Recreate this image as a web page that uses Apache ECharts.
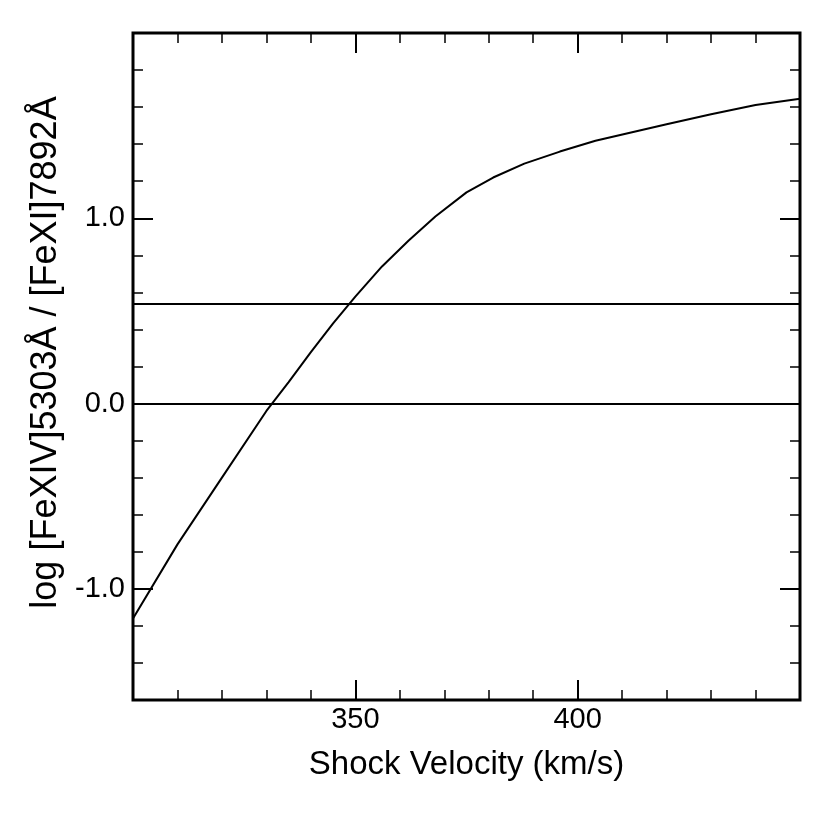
<!DOCTYPE html>
<html>
<head>
<meta charset="utf-8">
<title>Shock Velocity</title>
<script src="https://cdn.jsdelivr.net/npm/echarts@6/dist/echarts.min.js"></script>
<style>
  html, body { margin: 0; padding: 0; background: #fff; }
  #main { width: 834px; height: 834px; }
</style>
</head>
<body>
<div id="main"></div>
<script>
// 曲线数据 (km/s, log ratio)
var velocity = [300, 310, 320, 330, 335, 340, 345, 350, 356, 362, 368, 375, 381, 388, 396, 404, 412, 420, 430, 440, 450];
var logRatio = [-1.16, -0.76, -0.40, -0.04, 0.116, 0.278, 0.433, 0.577, 0.74, 0.88, 1.01, 1.14, 1.22, 1.295, 1.36, 1.418, 1.463, 1.508, 1.562, 1.611, 1.645];
// 水平参考线
var refLevels = [0, 0.54];
// 刻度
var xLabelTicks = [350, 400];
var yLabelTicks = [-1, 0, 1];

var font = '"Liberation Sans", Arial, Helvetica, sans-serif';
var myChart = echarts.init(document.getElementById('main'));

function minorX(pos) {
  return {
    type: 'value', position: pos, min: 300, max: 450, interval: 10,
    axisLine: { show: false, onZero: false }, splitLine: { show: false },
    axisTick: { show: true, inside: true, length: 10, lineStyle: { color: '#000', width: 1.5 } },
    axisLabel: { show: false }
  };
}
function majorX(pos) {
  return {
    type: 'value', position: pos, min: 300, max: 450,
    axisLine: { show: false, onZero: false }, splitLine: { show: false },
    axisTick: { show: true, inside: true, length: 20, customValues: xLabelTicks, lineStyle: { color: '#000', width: 2 } },
    axisLabel: { show: false }
  };
}
function minorY(pos) {
  return {
    type: 'value', position: pos, min: -1.6, max: 2.0, interval: 0.2,
    axisLine: { show: false, onZero: false }, splitLine: { show: false },
    axisTick: { show: true, inside: true, length: 10, lineStyle: { color: '#000', width: 1.5 } },
    axisLabel: { show: false }
  };
}
function majorY(pos) {
  return {
    type: 'value', position: pos, min: -1.6, max: 2.0,
    axisLine: { show: false, onZero: false }, splitLine: { show: false },
    axisTick: { show: true, inside: true, length: 20, customValues: yLabelTicks, lineStyle: { color: '#000', width: 2 } },
    axisLabel: { show: false }
  };
}

var xMain = minorX('bottom');
xMain.name = 'Shock Velocity (km/s)';
xMain.nameLocation = 'middle';
xMain.nameGap = 48;
xMain.nameTextStyle = { fontFamily: font, fontSize: 33, color: '#000' };
xMain.axisLabel = { show: true, customValues: xLabelTicks, margin: 5, fontFamily: font, fontSize: 29, color: '#000' };

var yMain = minorY('left');
yMain.name = 'log [FeXIV]5303Å / [FeXI]7892Å';
yMain.nameLocation = 'middle';
yMain.nameGap = 64;
yMain.nameTextStyle = { fontFamily: font, fontSize: 36, color: '#000', padding: [0, 0, 0, 28] };
yMain.axisLabel = {
  show: true, customValues: yLabelTicks, margin: 8, fontFamily: font, fontSize: 29, color: '#000',
  formatter: function (v) { return v.toFixed(1); }
};

var option = {
  animation: false,
  backgroundColor: '#fff',
  grid: { left: 133, right: 34, top: 33, bottom: 134, show: true, borderColor: '#000', borderWidth: 3, backgroundColor: 'transparent' },
  xAxis: [xMain, majorX('bottom'), minorX('top'), majorX('top')],
  yAxis: [yMain, majorY('left'), minorY('right'), majorY('right')],
  series: [{
    type: 'line',
    xAxisIndex: 0, yAxisIndex: 0,
    data: velocity.map(function (v, i) { return [v, logRatio[i]]; }),
    showSymbol: false,
    lineStyle: { color: '#000', width: 2 },
    markLine: {
      silent: true,
      symbol: 'none',
      label: { show: false },
      lineStyle: { color: '#000', width: 2, type: 'solid' },
      data: refLevels.map(function (v) { return { yAxis: v }; })
    }
  }]
};

myChart.setOption(option);
</script>
</body>
</html>
